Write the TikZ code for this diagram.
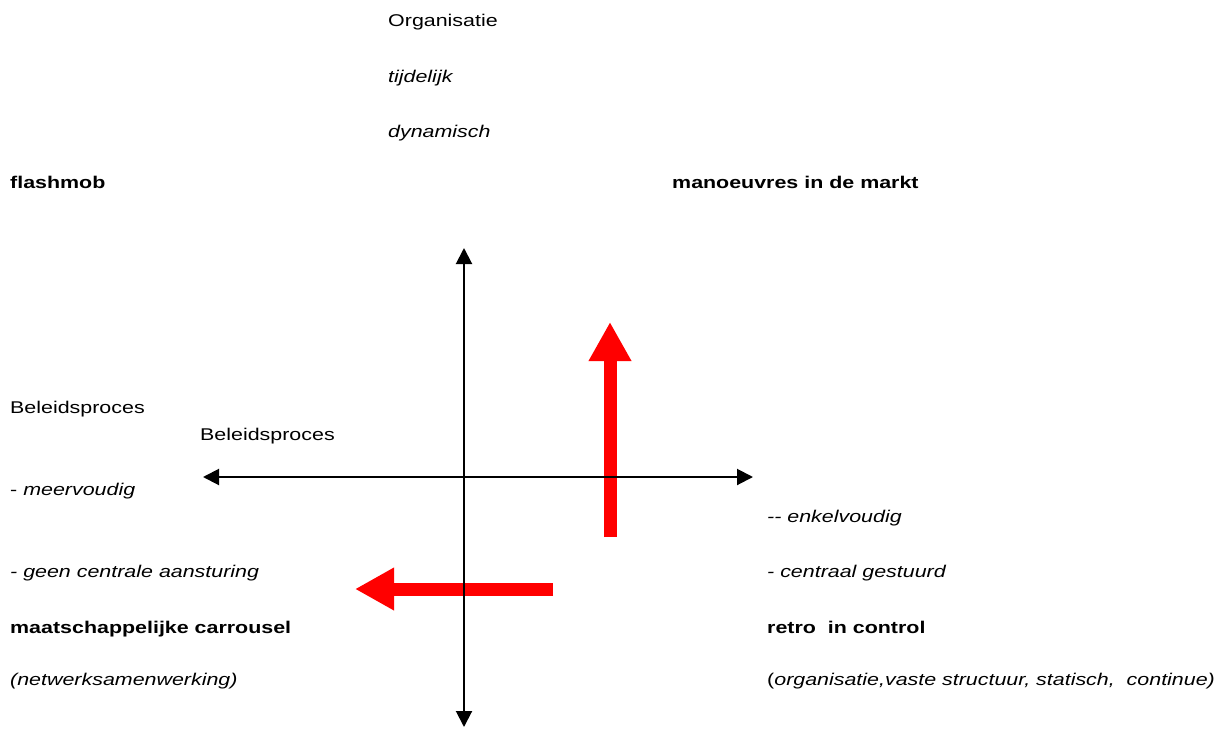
\documentclass[tikz,border=0pt]{standalone}
\usepackage{fontspec}
\setmainfont{Liberation Sans}
\usetikzlibrary{arrows.meta}
\newcommand{\stretchtxt}[1]{\scalebox{1.26}[1]{#1}}
\begin{document}
\begin{tikzpicture}[
        x=1pt,y=-1pt,
        lbl/.style={anchor=base west,inner sep=0pt,font=\fontsize{17}{20}\selectfont},
        axis/.style={line width=2pt,{Triangle[length=16pt,width=16pt]}-{Triangle[length=16pt,width=16pt]}},
        shiftarrow/.style={draw=red,line width=13pt,-{Triangle[length=39pt,width=40pt]}}
        ]
        \useasboundingbox (0,0) rectangle (1223,728);

        % labels
        \node (org) at (388, 27) [lbl] {\stretchtxt{Organisatie}};
        \node (tijd) at (388, 82) [lbl] {\stretchtxt{\itshape tijdelijk}};
        \node (dyn) at (388, 137) [lbl] {\stretchtxt{\itshape dynamisch}};
        \node (flash) at (10, 188) [lbl] {\stretchtxt{\bfseries flashmob}};
        \node (manoe) at (672, 188) [lbl] {\stretchtxt{\bfseries manoeuvres in de markt}};
        \node (bel1) at (10, 413) [lbl] {\stretchtxt{Beleidsproces}};
        \node (bel2) at (200, 440) [lbl] {\stretchtxt{Beleidsproces}};
        \node (meer) at (10, 495) [lbl] {\stretchtxt{- \itshape meervoudig}};
        \node (enkel) at (767, 522) [lbl] {\stretchtxt{\itshape -{}- enkelvoudig}};
        \node (geen) at (10, 577) [lbl] {\stretchtxt{\itshape - geen centrale aansturing}};
        \node (centr) at (767, 577) [lbl] {\stretchtxt{\itshape - centraal gestuurd}};
        \node (maat) at (10, 633) [lbl] {\stretchtxt{\bfseries maatschappelijke carrousel}};
        \node (retro) at (767, 633) [lbl] {\stretchtxt{\bfseries retro\ \ in control}};
        \node (netw) at (10, 685) [lbl] {\stretchtxt{\itshape (netwerksamenwerking)}};
        \node (vast) at (767, 685) [lbl] {\stretchtxt{(\itshape organisatie,vaste structuur, statisch,\ \ continue)}};

        % red shifts
        \coordinate (upfrom) at (610, 537);
        \coordinate (upto) at (610, 322);
        \coordinate (leftfrom) at (553, 589);
        \coordinate (leftto) at (355, 589);
        \draw[shiftarrow] (upfrom) -- (upto);
        \draw[shiftarrow] (leftfrom) -- (leftto);

        % axes
        \coordinate (top) at (464, 248);
        \coordinate (bottom) at (464, 727);
        \coordinate (west) at (203, 477);
        \coordinate (east) at (753, 477);
        \draw[axis] (bottom) -- (top);
        \draw[axis] (west) -- (east);
      \end{tikzpicture}
\end{document}
